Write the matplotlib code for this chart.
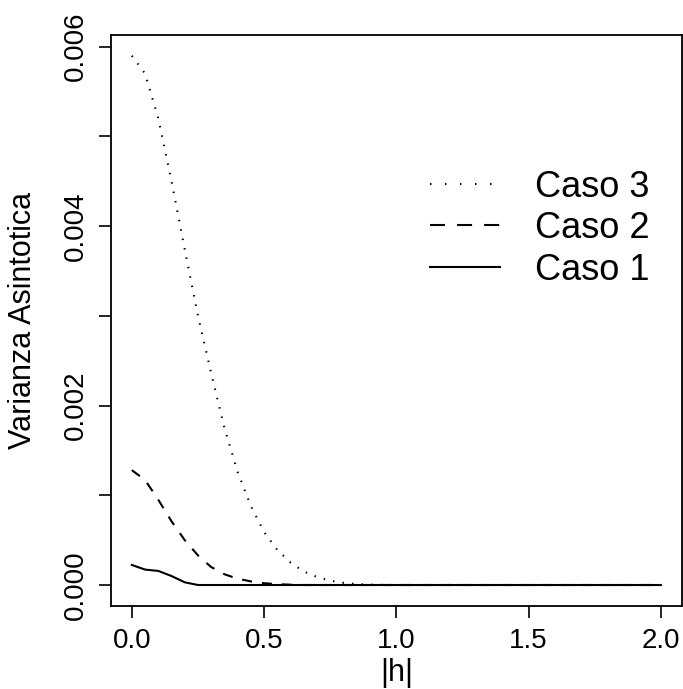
import numpy as np
import matplotlib
matplotlib.use("Agg")
from matplotlib import pyplot as plt
from matplotlib.lines import Line2D

plt.rcParams['font.family'] = ['Liberation Sans', 'DejaVu Sans']

# grid of |h| values (step 0.05)
h = [0.00, 0.05, 0.10, 0.15, 0.20, 0.25, 0.30, 0.35, 0.40, 0.45,
     0.50, 0.55, 0.60, 0.65, 0.70, 0.75, 0.80, 0.85, 0.90, 0.95,
     1.00, 1.05, 1.10, 1.15, 1.20, 1.25, 1.30, 1.35, 1.40, 1.45,
     1.50, 1.55, 1.60, 1.65, 1.70, 1.75, 1.80, 1.85, 1.90, 1.95, 2.00]

caso1 = [0.000223, 0.000172, 0.000157, 0.000100, 0.000030, 0.0, 0.0, 0.0, 0.0, 0.0,
         0.0, 0.0, 0.0, 0.0, 0.0, 0.0, 0.0, 0.0, 0.0, 0.0,
         0.0, 0.0, 0.0, 0.0, 0.0, 0.0, 0.0, 0.0, 0.0, 0.0,
         0.0, 0.0, 0.0, 0.0, 0.0, 0.0, 0.0, 0.0, 0.0, 0.0, 0.0]

caso2 = [0.00128, 0.00117, 0.00095, 0.00071, 0.00050, 0.00033, 0.00020, 0.00012, 0.00007, 0.00004,
         0.00002, 0.00001, 0.000003, 0.0, 0.0, 0.0, 0.0, 0.0, 0.0, 0.0,
         0.0, 0.0, 0.0, 0.0, 0.0, 0.0, 0.0, 0.0, 0.0, 0.0,
         0.0, 0.0, 0.0, 0.0, 0.0, 0.0, 0.0, 0.0, 0.0, 0.0, 0.0]

caso3 = [0.00590, 0.00570, 0.00520, 0.00450, 0.00374, 0.00300, 0.00236, 0.00175, 0.00126, 0.00088,
         0.00059, 0.00039, 0.00025, 0.00015, 0.00009, 0.000048, 0.000024, 0.00001, 0.000004, 0.000001,
         0.0, 0.0, 0.0, 0.0, 0.0, 0.0, 0.0, 0.0, 0.0, 0.0,
         0.0, 0.0, 0.0, 0.0, 0.0, 0.0, 0.0, 0.0, 0.0, 0.0, 0.0]

xticks = [0.0, 0.5, 1.0, 1.5, 2.0]
yticks = [0.000, 0.001, 0.002, 0.003, 0.004, 0.005, 0.006]
ylabels = ['0.000', '', '0.002', '', '0.004', '', '0.006']

W, H = 683, 689
fig = plt.figure(figsize=(W / 100, H / 100), dpi=100)
ax = fig.add_axes([110.7 / W, (H - 606) / H, (682 - 110.7) / W, (606 - 34.7) / H])

lw = 1.5
dot = (0.7, 3.9)
dash = (4.8, 4.8)
ax.plot(h, caso3, color='black', lw=lw, dashes=dot)
ax.plot(h, caso2, color='black', lw=lw, dashes=dash)
ax.plot(h, caso1, color='black', lw=lw)

ax.set_xlim(-0.08, 2.08)
ax.set_ylim(-0.000234, 0.006134)

ax.set_xticks(xticks)
ax.set_xticklabels(['%.1f' % v for v in xticks])
ax.set_yticks(yticks)
ax.set_yticklabels(ylabels, rotation=90, va='center')

ax.tick_params(axis='both', direction='out', length=8.5, width=1.2,
               labelsize=20, pad=7)
for s in ax.spines.values():
    s.set_linewidth(1.3)

ax.set_xlabel('|h|', fontsize=22, labelpad=3)
ax.set_ylabel('Varianza Asintotica', fontsize=22, labelpad=18)

# legend keys use a looser pattern than the curves
handles = [Line2D([], [], color='black', lw=lw, dashes=(0.7, 6.5)),
           Line2D([], [], color='black', lw=lw, dashes=(7.2, 5.8)),
           Line2D([], [], color='black', lw=lw)]
ax.legend(handles, ['Caso 3', 'Caso 2', 'Caso 1'],
          loc='upper left', bbox_to_anchor=(0.559, 0.764), frameon=False,
          fontsize=26, handlelength=1.94, handletextpad=0.97,
          labelspacing=0.18, borderaxespad=0, borderpad=0)

fig.savefig('out.png', dpi=100)
